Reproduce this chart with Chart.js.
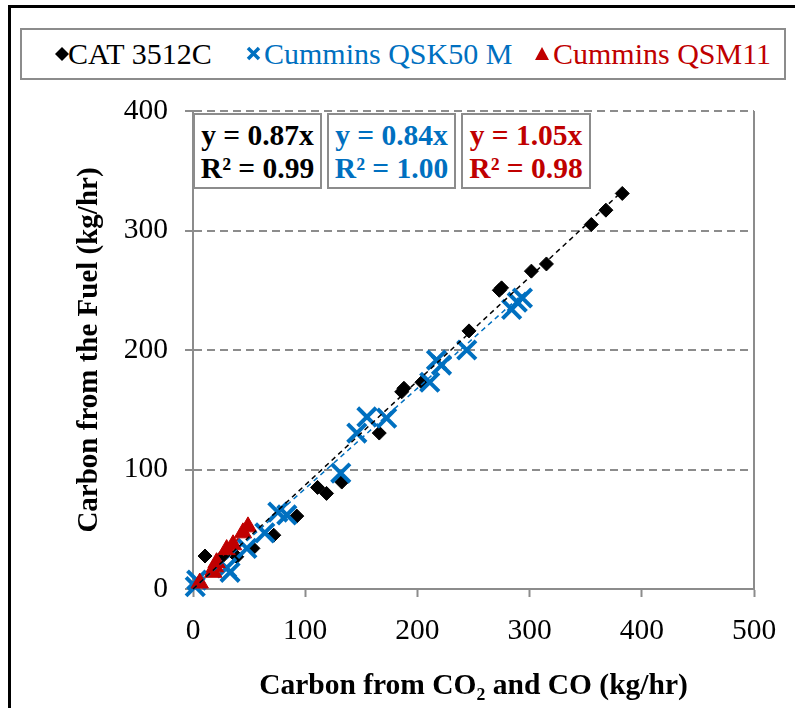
<!DOCTYPE html>
<html><head><meta charset="utf-8">
<script src="https://cdn.jsdelivr.net/npm/chart.js@4"></script>
<style>
html,body{margin:0;padding:0;background:#fff;}
#wrap{position:relative;width:795px;height:708px;overflow:hidden;font-family:"Liberation Serif","Times New Roman",serif;background:#fff;}
#frame{position:absolute;left:8px;top:5px;width:900px;height:900px;border:3px solid #000;box-sizing:border-box;}
#c{position:absolute;left:0;top:0;}
.legend{position:absolute;left:20px;top:28px;width:766px;height:52px;border:2px solid #8c8c8c;box-sizing:border-box;background:#fff;}
.li{position:absolute;top:9px;font-size:30px;line-height:30px;white-space:nowrap;}
.mk{position:absolute;}
.eq{position:absolute;top:113px;height:76px;border:2px solid #8c8c8c;box-sizing:border-box;background:#fff;font-weight:bold;font-size:29.5px;line-height:33px;text-align:center;padding-top:4px;white-space:nowrap;}
</style>
</head><body>
<div id="wrap">
<div id="frame"></div>
<canvas id="c" width="795" height="708"></canvas>
<div class="legend">
  <svg class="mk" style="left:33px;top:17px" width="14" height="14"><polygon points="7,0 14,7 7,14 0,7" fill="#000"/></svg>
  <span class="li" style="left:46px;color:#000">CAT 3512C</span>
  <svg class="mk" style="left:224px;top:16px" width="15" height="15"><path d="M2,2 L13,13 M13,2 L2,13" stroke="#0070C0" stroke-width="3.5"/></svg>
  <span class="li" style="left:242px;color:#0070C0">Cummins QSK50 M</span>
  <svg class="mk" style="left:513px;top:17px" width="14" height="13"><polygon points="7,0 14,13 0,13" fill="#C00000"/></svg>
  <span class="li" style="left:531px;color:#C00000">Cummins QSM11</span>
</div>
<div class="eq" style="left:193px;width:129px;color:#000">y = 0.87x<br>R² = 0.99</div>
<div class="eq" style="left:327px;width:129px;color:#0070C0">y = 0.84x<br>R² = 1.00</div>
<div class="eq" style="left:461px;width:130px;color:#C00000">y = 1.05x<br>R² = 0.98</div>
</div>
<script>
// ---- data ----
const seriesNames = ['CAT 3512C', 'Cummins QSK50 M', 'Cummins QSM11'];
const catX = [10.7, 25.8, 39, 53.4, 72, 92.5, 111, 119, 132.6, 166, 186, 188, 204, 246, 273, 275, 301.6, 315, 355, 368, 382.6];
const catY = [27.6, 27, 27, 34, 45, 61, 85, 80, 89.5, 130.5, 165, 168, 173, 216, 250, 252, 266, 272, 305, 317, 331];
const qskX = [2, 3.3, 30, 33, 48, 64, 75.6, 83.6, 131.7, 146, 155, 172.6, 211, 217, 221.5, 244, 284, 289, 293.6];
const qskY = [2, 7.5, 17.6, 14, 34, 47, 64.4, 62, 97, 130.5, 144, 143, 173, 191.6, 187.4, 200, 234, 240, 243.5];
const qsmX = [6, 18, 19.5, 21, 30, 35.7, 44.5, 49];
const qsmY = [5, 14, 18.6, 22, 33, 37, 47, 52];
const slopes = [0.87, 0.84, 1.05];
const xTicks = [0, 100, 200, 300, 400, 500];
const yTicks = [0, 100, 200, 300, 400];

const BLUE = '#0070C0', RED = '#C00000', GRAY = '#8c8c8c';
const pts = (xs, ys) => xs.map((x, i) => ({x, y: ys[i]}));
const trend = (xs, m) => { const mx = Math.max(...xs); return [{x: 0, y: 0}, {x: mx, y: m * mx}]; };

const rightBorder = {
  id: 'rightBorder',
  beforeDatasetsDraw(chart) {
    const {ctx, chartArea: a} = chart;
    ctx.save(); ctx.strokeStyle = GRAY; ctx.lineWidth = 2;
    ctx.beginPath(); ctx.moveTo(a.right, a.top); ctx.lineTo(a.right, a.bottom); ctx.stroke();
    ctx.restore();
  }
};

const FONT = "'Liberation Serif', 'Times New Roman', serif";
new Chart(document.getElementById('c'), {
  type: 'scatter',
  data: {
    datasets: [
      {label: 'trend CAT', data: trend(catX, slopes[0]), showLine: true, pointRadius: 0, borderColor: '#000', borderWidth: 1.5, borderDash: [5, 4], clip: false},
      {label: 'trend QSK', data: trend(qskX, slopes[1]), showLine: true, pointRadius: 0, borderColor: BLUE, borderWidth: 1.5, borderDash: [5, 4], clip: false},
      {label: 'trend QSM', data: trend(qsmX, slopes[2]), showLine: true, pointRadius: 0, borderColor: RED, borderWidth: 1.5, borderDash: [5, 4], clip: false},
      {label: seriesNames[2], data: pts(qsmX, qsmY), pointStyle: 'triangle', pointRadius: 10, backgroundColor: RED, borderColor: RED, borderWidth: 1, clip: false},
      {label: seriesNames[1], data: pts(qskX, qskY), pointStyle: 'crossRot', pointRadius: 13, backgroundColor: BLUE, borderColor: BLUE, borderWidth: 4, clip: false},
      {label: seriesNames[0], data: pts(catX, catY), pointStyle: 'rectRot', pointRadius: 7, backgroundColor: '#000', borderColor: '#000', borderWidth: 1, clip: false}
    ]
  },
  options: {
    responsive: false, animation: false, devicePixelRatio: 1,
    layout: {padding: {top: 111, right: 41, left: 0, bottom: 0}},
    plugins: {legend: {display: false}, tooltip: {enabled: false}},
    scales: {
      x: {
        type: 'linear', min: 0, max: 500,
        afterBuildTicks: s => { s.ticks = xTicks.map(v => ({value: v})); },
        afterFit: s => { s.height = 119; },
        grid: {drawOnChartArea: false, drawTicks: true, tickLength: 8, tickColor: GRAY, tickWidth: 2},
        border: {display: true, color: GRAY, width: 2},
        ticks: {color: '#000', font: {family: FONT, size: 29.5}, padding: 17, maxRotation: 0},
        title: {display: true, text: 'Carbon from CO₂ and CO (kg/hr)', color: '#000', font: {family: FONT, size: 29.5, weight: 'bold'}, padding: {top: 0, bottom: 4}}
      },
      y: {
        type: 'linear', min: 0, max: 400,
        afterBuildTicks: s => { s.ticks = yTicks.map(v => ({value: v})); },
        afterFit: s => { s.width = 193; },
        grid: {drawOnChartArea: true, color: GRAY, lineWidth: 2, drawTicks: true, tickLength: 8, tickColor: GRAY, tickWidth: 2},
        border: {display: true, color: GRAY, width: 2, dash: [8, 5]},
        ticks: {color: '#000', font: {family: FONT, size: 29.5}, padding: 17},
        title: {display: true, text: 'Carbon from the Fuel (kg/hr)', color: '#000', font: {family: FONT, size: 29, weight: 'bold'}, padding: {top: 72, bottom: 0}}
      }
    }
  },
  plugins: [rightBorder]
});
</script>
</body></html>
